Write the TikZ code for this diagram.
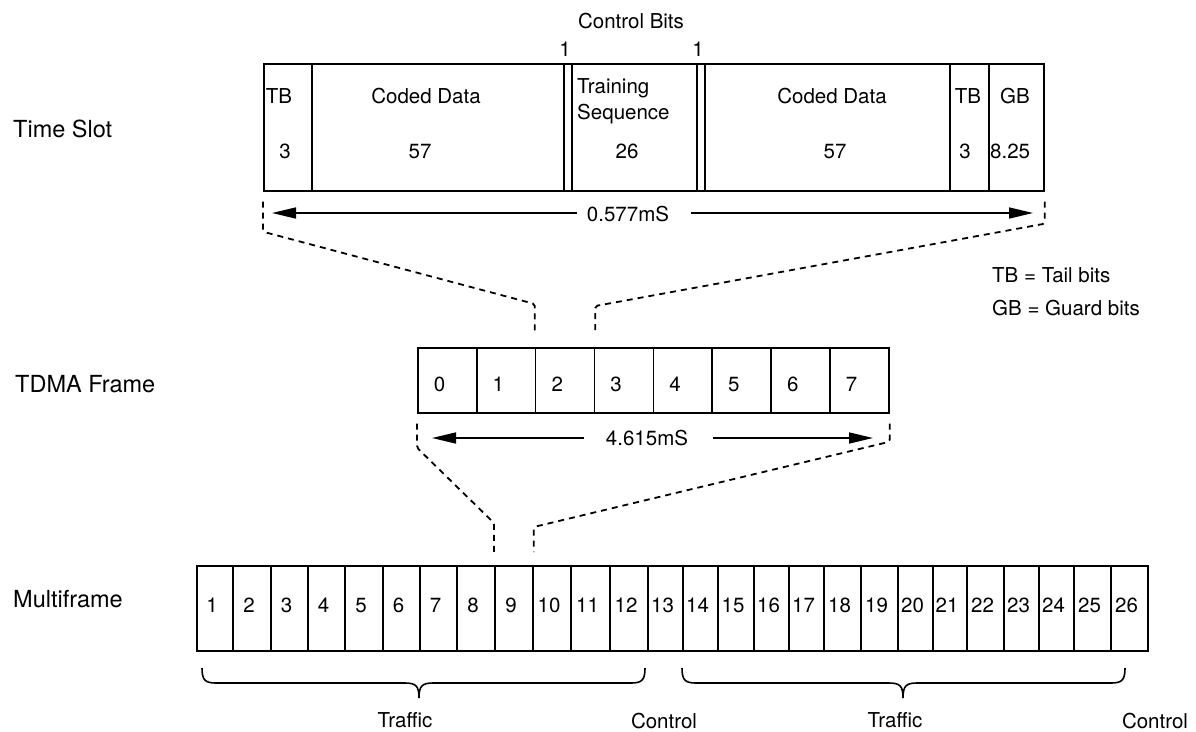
\documentclass[tikz,border=0pt]{standalone}
\usepackage{fontspec}
\setmainfont{TeX Gyre Heros}
\usetikzlibrary{arrows.meta,calc}
\begin{document}
\begin{tikzpicture}[x=1pt,y=-1pt,
  cellbox/.style={draw, line width=1.7pt, inner sep=0pt, anchor=north west},
  lbl/.style={font=\fontsize{23.5}{26}\selectfont, anchor=base west, inner sep=0pt},
  txt/.style={font=\fontsize{20.5}{22}\selectfont, anchor=base, inner sep=0pt},
  dsh/.style={line width=1.8pt, dash pattern=on 6pt off 5pt, rounded corners=2pt},
  dimarrow/.style={line width=1.6pt, -{Triangle[length=24pt,width=11pt]}},
  brc/.style={line width=1.6pt}]
\fill[white] (0,0) rectangle (1196,731);
\useasboundingbox (0,0) rectangle (1196,731);

% ---------- row labels ----------
\node[lbl] (lTS) at (13,137) {Time Slot};
\node[lbl] (lTD) at (15,392) {TDMA Frame};
\node[lbl] (lMF) at (13,607) {Multiframe};

% ---------- time slot ----------
\node[cellbox, minimum width=48pt,  minimum height=127pt] (tb1) at (263,63) {};
\node[cellbox, minimum width=252pt, minimum height=127pt] (cd1) at (311,63) {};
\node[cellbox, minimum width=8pt,   minimum height=127pt] (cb1) at (563,63) {};
\node[cellbox, minimum width=125pt, minimum height=127pt] (trn) at (571,63) {};
\node[cellbox, minimum width=8pt,   minimum height=127pt] (cb2) at (696,63) {};
\node[cellbox, minimum width=245pt, minimum height=127pt] (cd2) at (704,63) {};
\node[cellbox, minimum width=39pt,  minimum height=127pt] (tb2) at (949,63) {};
\node[cellbox, minimum width=55pt,  minimum height=127pt] (gb)  at (988,63) {};

\node[txt] (hCB) at (631,28) {Control Bits};
\node[txt] (hC1) at (565,56) {1};
\node[txt] (hC2) at (698,56) {1};

\node[txt] (tTB1) at (279,103) {TB};
\node[txt] (tCD1) at (426,103) {Coded Data};
\node[txt, anchor=base west] (tTr) at (577,93) {Training};
\node[txt, anchor=base west] (tSq) at (577,119) {Sequence};
\node[txt] (tCD2) at (832,103) {Coded Data};
\node[txt] (tTB2) at (968,103) {TB};
\node[txt] (tGB)  at (1015,103) {GB};

\node[txt] (nTB1) at (285,158) {3};
\node[txt] (nCD1) at (420,158) {57};
\node[txt] (nTr)  at (627,158) {26};
\node[txt] (nCD2) at (835,158) {57};
\node[txt] (nTB2) at (965,158) {3};
\node[txt, anchor=base west] (nGB) at (990,158) {8.25};

% slot duration
\coordinate (a1l) at (272,213);
\coordinate (a1r) at (1033,213);
\node[txt] (t577) at (628,221) {0.577mS};
\draw[dimarrow] ($(t577.west|-a1l)+(-10,0)$) -- (a1l);
\draw[dimarrow] ($(t577.east|-a1r)+(22,0)$) -- (a1r);

% legend
\node[txt, anchor=base west] (lgTB) at (992,282) {TB = Tail bits};
\node[txt, anchor=base west] (lgGB) at (992,315) {GB = Guard bits};

% ---------- TDMA frame ----------
\foreach \i in {0,...,7}{
  \node[cellbox, minimum width=58.875pt, minimum height=65pt] (f\i) at ({417+58.875*\i},347) {};
  \node[txt] (fn\i) at ({417+58.875*\i+22.5},391) {\i};
}

\coordinate (a2l) at (432,438);
\coordinate (a2r) at (873,438);
\node[txt] (t4615) at (647,445) {4.615mS};
\draw[dimarrow] ($(t4615.west|-a2l)+(-22,0)$) -- (a2l);
\draw[dimarrow] ($(t4615.east|-a2r)+(25,0)$) -- (a2r);

% time slot expanded from frame slot 2
\draw[dsh] ($(tb1.south west)+(0,10)$) -- ($(tb1.south west)+(0,40)$)
  -- ($(f2.north west)+(0,-43)$) -- ($(f2.north west)+(0,-14)$);
\draw[dsh] ($(gb.south east)+(0,10)$) -- ($(gb.south east)+(0,32)$)
  -- ($(f2.north east)+(0,-41)$) -- ($(f2.north east)+(0,-14)$);

% ---------- multiframe ----------
\foreach \a/\b [count=\i, evaluate=\a as \w using \b-\a, evaluate=\a as \c using (\a+\b)/2] in
  {196/232, 232/270, 270/307, 307/344, 344/382, 382/419, 419/456, 456/494, 494/532,
   532/570, 570/609, 609/647, 647/682, 682/717, 717/753, 753/788, 788/823, 823/860,
   860/897, 897/932, 932/966, 966/1003, 1003/1038, 1038/1073, 1073/1110, 1110/1147}{
  \node[cellbox, minimum width=\w pt, minimum height=85pt] (m\i) at (\a,565) {};
  \node[txt] (mn\i) at (\c-2,612) {\i};
}

% frame expanded from multiframe slot 9
\draw[dsh] ($(f0.south west)+(0,10)$) -- ($(f0.south west)+(0,34)$)
  -- ($(m9.north west)+(0,-42)$) -- ($(m9.north west)+(0,-12)$);
\draw[dsh] ($(f7.south east)+(0,10)$) -- ($(f7.south east)+(0,28)$)
  -- ($(m9.north east)+(0,-38)$) -- ($(m9.north east)+(0,-13)$);

% braces
\coordinate (b1s) at (202,668);
\coordinate (b1t) at (419,698);
\coordinate (b1e) at (645,668);
\coordinate (b2s) at (682,668);
\coordinate (b2t) at (903,698);
\coordinate (b2e) at (1125,668);
\foreach \s/\t/\e in {b1s/b1t/b1e, b2s/b2t/b2e}{
  \draw[brc] (\s) .. controls ($(\s)+(0,12)$) and ($(\s)+(3,15)$) .. ($(\s)+(14,15)$)
    -- ($(\t)+(-14,-15)$) .. controls ($(\t)+(-3,-15)$) and ($(\t)+(0,-12)$) .. (\t)
    .. controls ($(\t)+(0,-12)$) and ($(\t)+(3,-15)$) .. ($(\t)+(14,-15)$)
    -- ($(\e)+(-14,15)$) .. controls ($(\e)+(-3,15)$) and ($(\e)+(0,12)$) .. (\e);
}
\node[txt] (tr1) at (405,727) {Traffic};
\node[txt] (ct1) at (664,728) {Control};
\node[txt] (tr2) at (895,727) {Traffic};
\node[txt] (ct2) at (1155,728) {Control};
\end{tikzpicture}
\end{document}
